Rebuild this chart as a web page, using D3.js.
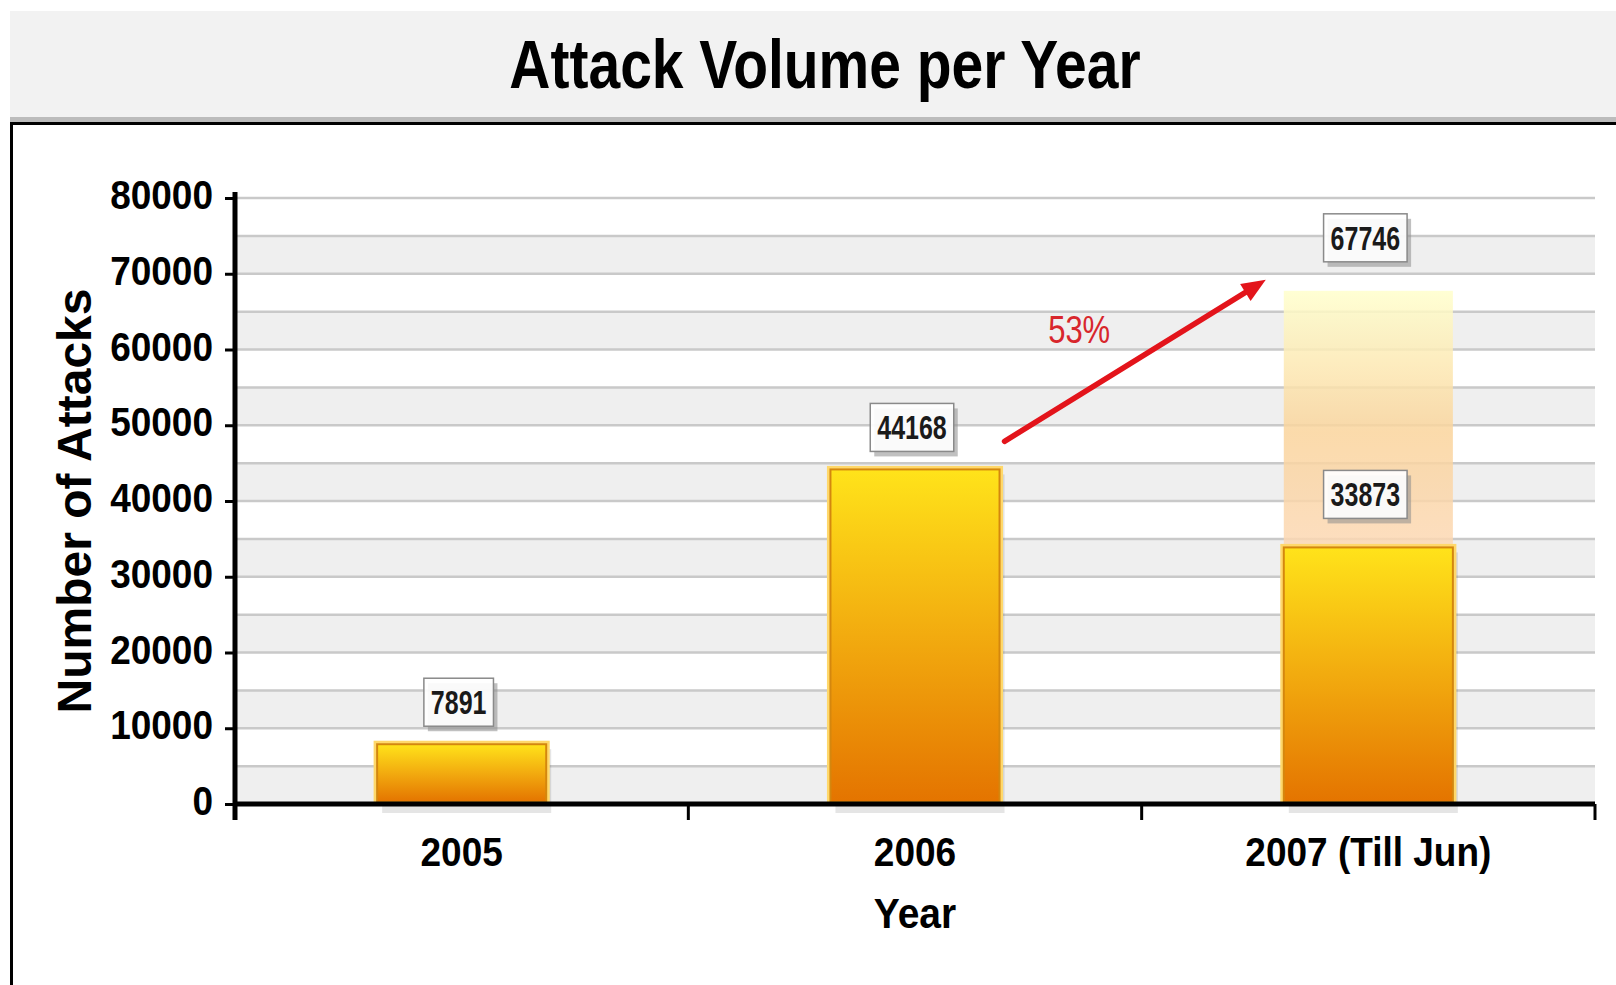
<!DOCTYPE html>
<html>
<head>
<meta charset="utf-8">
<script src="https://cdn.jsdelivr.net/npm/d3@7"></script>
<style>
  body { margin: 0; background: #fff; }
  text { font-family: "Liberation Sans", Arial, Helvetica, sans-serif; }
</style>
</head>
<body>
<script>
// values
const categories = ['2005', '2006', '2007 (Till Jun)'];
const attacks = [7891, 44168, 33873];
const projected = [null, null, 67746];   // full-year estimate for 2007
const yTicks = [0, 10000, 20000, 30000, 40000, 50000, 60000, 70000, 80000];

const W = 1616, H = 985;
const plot = { left: 235, right: 1595, top: 198, bottom: 804 };
const font = '"Liberation Sans", Arial, sans-serif';

const svg = d3.select('body')
  .append('svg')
  .attr('width', W)
  .attr('height', H);

const defs = svg.append('defs');

const barGrad = defs.append('linearGradient')
  .attr('id', 'barGrad')
  .attr('x1', 0).attr('y1', 0).attr('x2', 0).attr('y2', 1);
barGrad.append('stop').attr('offset', '0%').attr('stop-color', '#ffe31a');
barGrad.append('stop').attr('offset', '50%').attr('stop-color', '#f2ab0f');
barGrad.append('stop').attr('offset', '100%').attr('stop-color', '#e47400');

const ghostGrad = defs.append('linearGradient')
  .attr('id', 'ghostGrad')
  .attr('x1', 0).attr('y1', 0).attr('x2', 0).attr('y2', 1);
ghostGrad.append('stop').attr('offset', '0%').attr('stop-color', '#ffffcc');
ghostGrad.append('stop').attr('offset', '55%').attr('stop-color', '#fad49c');
ghostGrad.append('stop').attr('offset', '100%').attr('stop-color', '#fcd8b4');

// title band and frame
svg.append('rect')
  .attr('x', 10).attr('y', 11)
  .attr('width', W - 10).attr('height', 106)
  .attr('fill', '#f2f2f2');
svg.append('rect')
  .attr('x', 10).attr('y', 117)
  .attr('width', W - 10).attr('height', 5)
  .attr('fill', '#bcbcbc');
svg.append('rect')
  .attr('x', 10).attr('y', 122)
  .attr('width', W - 10).attr('height', 3)
  .attr('fill', '#000');
svg.append('rect')
  .attr('x', 10).attr('y', 122)
  .attr('width', 3).attr('height', H - 122)
  .attr('fill', '#000');

// stretched text helper (the source renders glyphs a bit tall)
function stretched (g, txt, x, y, size, k, opts = {}) {
  return g.append('text')
    .attr('transform', `translate(${x},${y}) scale(1,${k})`)
    .attr('text-anchor', opts.anchor || 'middle')
    .attr('font-size', size)
    .attr('font-weight', opts.weight || 'bold')
    .attr('fill', opts.fill || '#000')
    .text(txt);
}

stretched(svg, 'Attack Volume per Year', 825, 88, 57, 1.2);

const x = d3.scaleBand()
  .domain(categories)
  .range([plot.left, plot.right])
  .padding(0);

const y = d3.scaleLinear()
  .domain([0, 80000])
  .range([plot.bottom, plot.top]);

const barW = x.bandwidth() * 0.373;
const cx = c => x(c) + x.bandwidth() / 2;

// alternating bands and grid lines every 5000
const g = svg.append('g');
const half = d3.range(0, 80000, 5000);
g.selectAll('.band')
  .data(half.filter(v => v % 10000 === 0))
  .enter()
    .append('rect')
    .attr('class', 'band')
    .attr('x', plot.left)
    .attr('y', d => y(d + 5000))
    .attr('width', plot.right - plot.left)
    .attr('height', d => y(d) - y(d + 5000))
    .attr('fill', '#efefef');

g.selectAll('.grid')
  .data(d3.range(5000, 80001, 5000))
  .enter()
    .append('line')
    .attr('class', 'grid')
    .attr('x1', plot.left)
    .attr('x2', plot.right)
    .attr('y1', d => y(d))
    .attr('y2', d => y(d))
    .attr('stroke', '#c9c9c9')
    .attr('stroke-width', 2.5);

// projected (ghost) bar
const ghost = categories.map((c, i) => ({ c, v: projected[i], base: attacks[i] }))
  .filter(d => d.v != null);
g.selectAll('.ghost')
  .data(ghost)
  .enter()
    .append('rect')
    .attr('class', 'ghost')
    .attr('x', d => cx(d.c) - barW / 2)
    .attr('y', d => y(d.v))
    .attr('width', barW)
    .attr('height', d => y(d.base) - y(d.v))
    .attr('fill', 'url(#ghostGrad)')
    .attr('opacity', 0.85);

// bars
const bars = categories.map((c, i) => ({ c, v: attacks[i] }));
g.selectAll('.shadow')
  .data(bars)
  .enter()
    .append('rect')
    .attr('class', 'shadow')
    .attr('x', d => cx(d.c) - barW / 2 + 5)
    .attr('y', d => y(d.v) + 5)
    .attr('width', barW)
    .attr('height', d => y(0) - y(d.v) + 4)
    .attr('fill', '#000')
    .attr('opacity', 0.1);

g.selectAll('.glow')
  .data(bars)
  .enter()
    .append('rect')
    .attr('class', 'glow')
    .attr('x', d => cx(d.c) - barW / 2 - 2)
    .attr('y', d => y(d.v) - 2)
    .attr('width', barW + 4)
    .attr('height', d => y(0) - y(d.v) + 2)
    .attr('fill', 'none')
    .attr('stroke', '#ffd86a')
    .attr('stroke-width', 3);

g.selectAll('.bar')
  .data(bars)
  .enter()
    .append('rect')
    .attr('class', 'bar')
    .attr('x', d => cx(d.c) - barW / 2)
    .attr('y', d => y(d.v))
    .attr('width', barW)
    .attr('height', d => y(0) - y(d.v) - 2)
    .attr('fill', 'url(#barGrad)')
    .attr('stroke', '#d4870e')
    .attr('stroke-width', 2);

// axes
const yAxis = svg.append('g')
  .attr('transform', `translate(${plot.left},0)`)
  .call(d3.axisLeft(y).tickValues(yTicks).tickSize(10).tickPadding(12).tickFormat(d3.format('d')));
yAxis.select('.domain').remove();
yAxis.selectAll('.tick line').attr('stroke', '#000').attr('stroke-width', 3);
yAxis.selectAll('.tick text')
  .attr('x', null).attr('dy', null)
  .attr('transform', 'translate(-22,10.5) scale(1,1.09)')
  .attr('font-size', 37)
  .attr('font-weight', 'bold')
  .attr('font-family', font)
  .attr('fill', '#000');
yAxis.append('line')
  .attr('x1', 0).attr('x2', 0)
  .attr('y1', plot.top - 6).attr('y2', plot.bottom + 16)
  .attr('stroke', '#000').attr('stroke-width', 5);

const xAxis = svg.append('g')
  .attr('transform', `translate(0,${plot.bottom})`)
  .call(d3.axisBottom(x).tickSize(0).tickPadding(0));
xAxis.select('.domain').remove();
xAxis.selectAll('.tick text')
  .attr('y', null).attr('dy', null)
  .attr('transform', 'translate(0,62) scale(1,1.09)')
  .attr('font-size', 37)
  .attr('font-weight', 'bold')
  .attr('font-family', font)
  .attr('fill', '#000');
xAxis.append('line')
  .attr('x1', plot.left).attr('x2', plot.right)
  .attr('y1', 0).attr('y2', 0)
  .attr('stroke', '#000').attr('stroke-width', 5);
xAxis.selectAll('.bound')
  .data(categories.map(c => x(c)).concat([x.range()[1]]))
  .enter()
    .append('line')
    .attr('class', 'bound')
    .attr('x1', d => d).attr('x2', d => d)
    .attr('y1', 0).attr('y2', 16)
    .attr('stroke', '#000').attr('stroke-width', 3);

stretched(svg, 'Year', cx(categories[1]), 928, 39, 1.1);

svg.append('text')
  .attr('transform', `translate(91,${(plot.top + plot.bottom) / 2}) rotate(-90)`)
  .attr('text-anchor', 'middle')
  .attr('font-size', 48)
  .attr('font-weight', 'bold')
  .text('Number of Attacks');

// value boxes
const labels = [];
categories.forEach((c, i) => {
  const off = projected[i] != null ? 53 : 42;
  labels.push({ c, v: attacks[i], off });
  if (projected[i] != null) labels.push({ c, v: projected[i], off });
});
labels.forEach(d => {
  const lg = svg.append('g')
    .attr('transform', `translate(${cx(d.c) - 3},${y(d.v) - d.off})`);
  const shadow = lg.append('rect').attr('fill', '#8c8c8c').attr('opacity', 0.55);
  const box = lg.append('rect').attr('fill', '#fff').attr('fill-opacity', 0.92)
    .attr('stroke', '#8a8a8a').attr('stroke-width', 1.5);
  const t = stretched(lg, d.v, 0, 12, 25, 1.35, { fill: '#1a1a1a' });
  const w = t.node().getComputedTextLength() + 14;
  const h = 48;
  box.attr('x', -w / 2).attr('y', -h / 2).attr('width', w).attr('height', h);
  shadow.attr('x', -w / 2 + 4).attr('y', -h / 2 + 5).attr('width', w).attr('height', h);
});

// growth arrow from 2006 to the projected 2007 total
const from = { x: cx(categories[1]) + barW / 2 + 5, y: y(attacks[1]) - 28 };
const to = { x: cx(categories[2]) - barW / 2 - 18, y: y(projected[2]) - 11 };
const ang = Math.atan2(to.y - from.y, to.x - from.x);
const headL = 24, headW = 10;
const base = { x: to.x - headL * Math.cos(ang), y: to.y - headL * Math.sin(ang) };
svg.append('line')
  .attr('x1', from.x).attr('y1', from.y)
  .attr('x2', base.x + 2 * Math.cos(ang)).attr('y2', base.y + 2 * Math.sin(ang))
  .attr('stroke', '#e3141b').attr('stroke-width', 5.5).attr('stroke-linecap', 'round');
svg.append('path')
  .attr('d', `M${to.x},${to.y}` +
    `L${base.x - headW * Math.sin(ang)},${base.y + headW * Math.cos(ang)}` +
    `L${base.x + headW * Math.sin(ang)},${base.y - headW * Math.cos(ang)}Z`)
  .attr('fill', '#e3141b');

const growth = Math.round((projected[2] - attacks[1]) / attacks[1] * 100);
stretched(svg, growth + '%', (from.x + to.x) / 2 - 56, (from.y + to.y) / 2 - 18, 31, 1.28,
  { weight: 'normal', fill: '#d8262c' });
</script>
</body>
</html>
